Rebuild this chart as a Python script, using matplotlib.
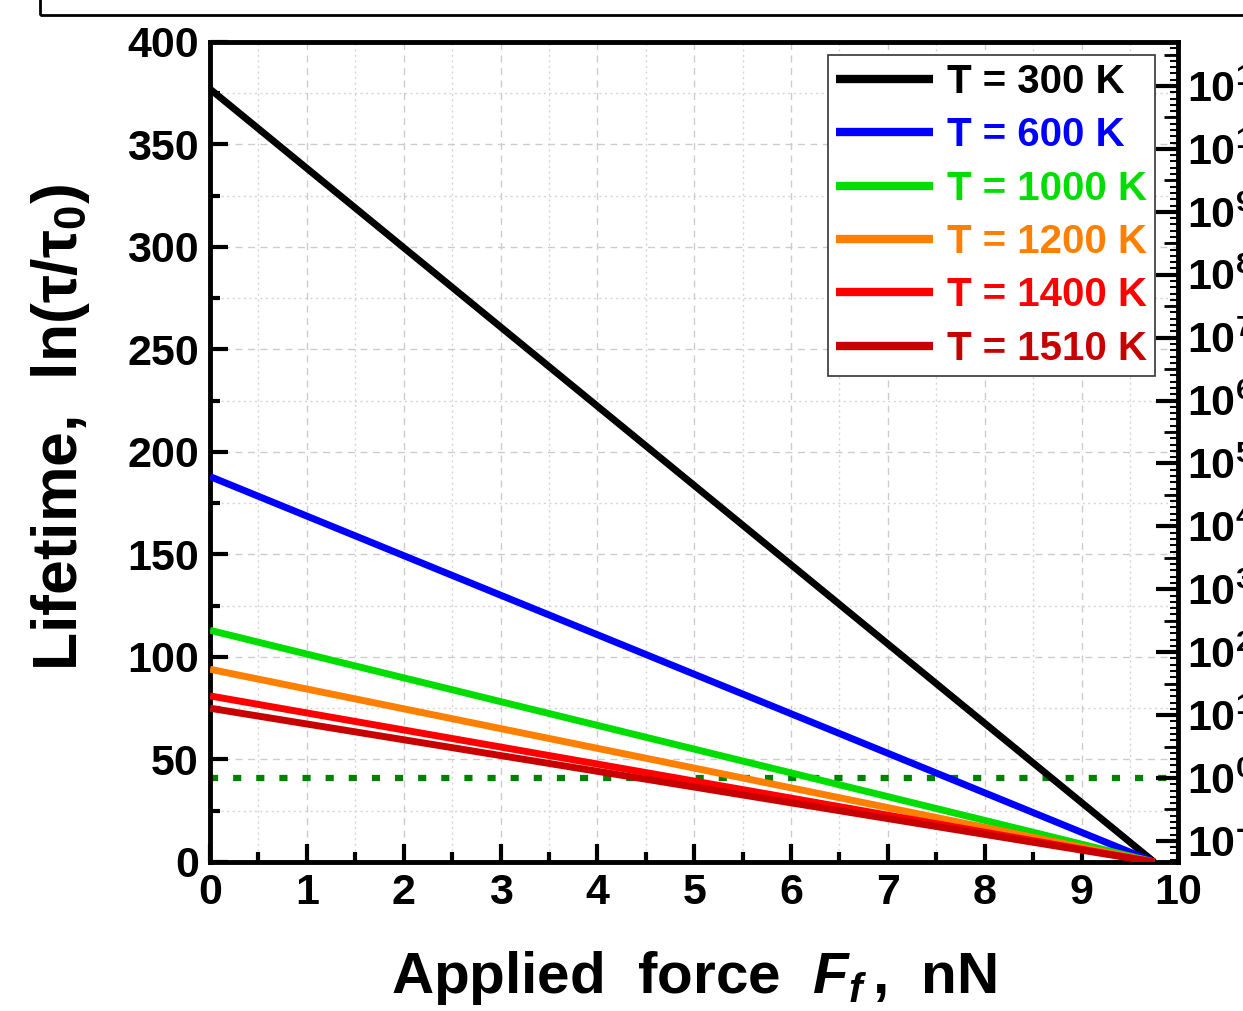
import numpy as np
import matplotlib
matplotlib.use('Agg')
import matplotlib.pyplot as plt
from matplotlib.ticker import MultipleLocator, FixedLocator, FuncFormatter
from matplotlib.patches import Rectangle

plt.rcParams['font.family'] = ['Liberation Sans', 'DejaVu Sans']
plt.rcParams['font.weight'] = 'bold'
plt.rcParams['mathtext.fontset'] = 'custom'
plt.rcParams['mathtext.rm'] = 'Liberation Sans:bold'
plt.rcParams['mathtext.it'] = 'Liberation Sans:bold:italic'
plt.rcParams['mathtext.bf'] = 'Liberation Sans:bold'

# data: ln(tau/tau0) at F=0 and at F=9.75 nN
force = [0.0, 9.75]
temps = ['T = 300 K', 'T = 600 K', 'T = 1000 K', 'T = 1200 K', 'T = 1400 K', 'T = 1510 K']
ln_start = [377, 188, 113, 94, 81, 75]
ln_end = [0, 0, 0, 0, 0, 0]
colors = ['#000000', '#0000FF', '#00DD00', '#FF8000', '#FF0000', '#C80000']
threshold = 41  # ln(tau/tau0) where tau = 1 s
log_low, log_high = -1.335, 11.70

fig = plt.figure(figsize=(12.43, 10.11), dpi=100)
ax = fig.add_axes([0.169, 0.1474, 0.779, 0.8111])

for k in range(len(temps)):
    ax.plot(force, [ln_start[k], ln_end[k]], color=colors[k], lw=5, label=temps[k],
            solid_capstyle='butt', zorder=3)

ax.axhline(threshold, color='#008000', lw=4.5, ls=(0, (1.3, 2.4)), zorder=2)

ax.set_xlim(0, 10)
ax.set_ylim(0, 400)
ax.xaxis.set_major_locator(MultipleLocator(1))
ax.xaxis.set_minor_locator(MultipleLocator(0.5))
ax.yaxis.set_major_locator(MultipleLocator(50))
ax.yaxis.set_minor_locator(MultipleLocator(25))
ax.grid(which='major', color='#cccccc', ls=(0, (5, 4)), lw=1)
ax.grid(which='minor', color='#d5d5d5', ls=(0, (1.5, 2.5)), lw=1)
ax.set_axisbelow(True)

ax.tick_params(which='major', direction='in', length=13, width=3, labelsize=31, pad=8,
               top=False, right=False)
ax.tick_params(which='minor', direction='in', length=7, width=3, top=False, right=False)
for s in ax.spines.values():
    s.set_linewidth(3.5)

ax.set_xlabel('Applied  force  $F_f\\,$,  nN', fontsize=42, fontweight='bold', labelpad=26)
ax.set_ylabel('Lifetime,  ln(τ/τ$\\mathregular{_0}$)', fontsize=45, fontweight='bold')
ax.yaxis.set_label_coords(-0.122, 0.53)

# right axis: tau in seconds on a log scale (linear in the exponent)
ax2 = ax.twinx()
ax2.set_ylim(log_low, log_high)
ax2.yaxis.set_major_locator(FixedLocator(np.arange(-1, 12)))
ax2.yaxis.set_minor_locator(MultipleLocator(0.1))
ax2.yaxis.set_major_formatter(FuncFormatter(lambda v, p: '$\\mathregular{10^{%d}}$' % round(v)))
ax2.tick_params(which='major', direction='in', length=16, width=3, labelsize=31, pad=6)
ax2.tick_params(which='minor', direction='in', length=6, width=1.5)
for s in ax2.spines.values():
    s.set_visible(False)

ax3 = ax.twinx()
ax3.set_ylim(log_low, log_high)
ax3.yaxis.set_major_locator(FixedLocator(np.arange(-0.5, 12, 1.0)))
ax3.tick_params(which='major', direction='in', length=10, width=2, labelright=False)
for s in ax3.spines.values():
    s.set_visible(False)

leg = ax.legend(loc='upper right', bbox_to_anchor=(0.976, 0.984), fontsize=29,
                handlelength=2.4, handletextpad=0.35, labelspacing=0.38, borderpad=0.2,
                fancybox=False, framealpha=1, edgecolor='#333333', borderaxespad=0)
leg.get_frame().set_linewidth(1.2)
for txt, c in zip(leg.get_texts(), colors):
    txt.set_color(c)
for h in leg.get_lines():
    h.set_linewidth(6)

# frame of the cut-off title box above the plot
fig.add_artist(Rectangle((40 / 1243, 1 - 15 / 1011), 1.2, 0.2, transform=fig.transFigure,
                         fill=False, lw=2, edgecolor='black'))

fig.savefig('out.png', dpi=100)
